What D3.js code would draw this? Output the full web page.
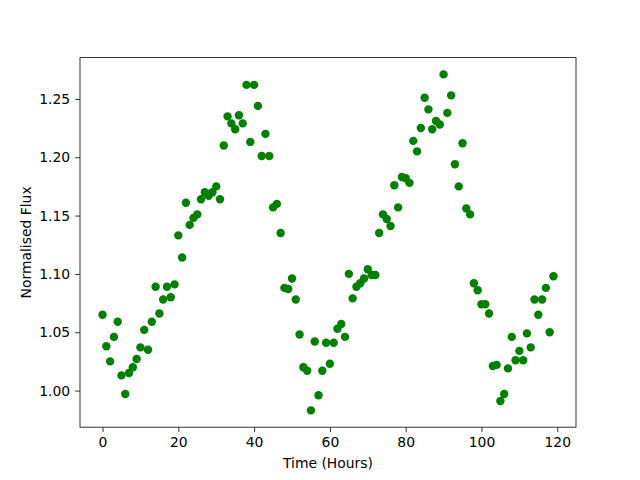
<!doctype html>
<html>
<head>
<meta charset="utf-8">
<style>
  body { margin: 0; background: #fff; }
  svg { display: block; }
  text { font-family: "DejaVu Sans", sans-serif; font-size: 13.9px; fill: #000; }
</style>
</head>
<body>
<svg id="chart" width="640" height="480"></svg>
<script src="https://d3js.org/d3.v7.min.js"></script>
<script>
// one reading per hour, 0..119
var hours = d3.range(0, 120);
var flux = [
  1.065, 1.038, 1.025, 1.046, 1.059, 1.013, 0.997, 1.015, 1.020, 1.027,
  1.037, 1.052, 1.035, 1.059, 1.089, 1.066, 1.078, 1.089, 1.080, 1.091,
  1.133, 1.114, 1.161, 1.142, 1.148, 1.151, 1.164, 1.170, 1.167, 1.170,
  1.175, 1.164, 1.210, 1.235, 1.229, 1.224, 1.236, 1.229, 1.262, 1.213,
  1.262, 1.244, 1.201, 1.220, 1.201, 1.157, 1.160, 1.135, 1.088, 1.087,
  1.096, 1.078, 1.048, 1.020, 1.017, 0.983, 1.042, 0.996, 1.017, 1.041,
  1.023, 1.041, 1.053, 1.057, 1.046, 1.100, 1.079, 1.089, 1.092, 1.096,
  1.104, 1.099, 1.099, 1.135, 1.151, 1.147, 1.141, 1.176, 1.157, 1.183,
  1.182, 1.178, 1.214, 1.205, 1.225, 1.251, 1.241, 1.224, 1.231, 1.228,
  1.271, 1.238, 1.253, 1.194, 1.175, 1.212, 1.156, 1.151, 1.092, 1.086,
  1.074, 1.074, 1.066, 1.021, 1.022, 0.991, 0.997, 1.019, 1.046, 1.026,
  1.034, 1.026, 1.049, 1.037, 1.078, 1.065, 1.078, 1.088, 1.050, 1.098
];
var xTicks = [0, 20, 40, 60, 80, 100, 120];
var yTicks = [1.00, 1.05, 1.10, 1.15, 1.20, 1.25];

var svg = d3.select("#chart");
var plotLeft = 80, plotRight = 576, plotTop = 57.6, plotBottom = 427.2;

function padded(ext) {
  var span = ext[1] - ext[0];
  return [ext[0] - span * 0.05, ext[1] + span * 0.05];
}

var x = d3.scaleLinear().domain(padded(d3.extent(hours))).range([plotLeft, plotRight]);
var y = d3.scaleLinear().domain(padded(d3.extent(flux))).range([plotBottom, plotTop]);

var pts = hours.map(function(h, i) { return { x: h, y: flux[i] }; });

svg.append("g")
  .selectAll("circle")
  .data(pts)
  .enter().append("circle")
  .attr("cx", function(d) { return x(d.x); })
  .attr("cy", function(d) { return y(d.y); })
  .attr("r", 4.2)
  .attr("fill", "#008000");

var xAxis = svg.append("g")
  .attr("transform", "translate(0," + plotBottom + ")")
  .call(d3.axisBottom(x).tickValues(xTicks).tickSize(4.9).tickPadding(4.9).tickFormat(d3.format("d")));
var yAxis = svg.append("g")
  .attr("transform", "translate(" + plotLeft + ",0)")
  .call(d3.axisLeft(y).tickValues(yTicks).tickSize(4.9).tickPadding(4.9).tickFormat(d3.format(".2f")));

[xAxis, yAxis].forEach(function(g) {
  g.select(".domain").remove();
  g.selectAll(".tick line").attr("stroke", "#000").attr("stroke-width", 0.8);
  g.selectAll(".tick text").attr("font-family", "DejaVu Sans, sans-serif").attr("font-size", 13.9).attr("fill", "#000");
});

svg.append("rect")
  .attr("x", plotLeft).attr("y", plotTop)
  .attr("width", plotRight - plotLeft).attr("height", plotBottom - plotTop)
  .attr("fill", "none").attr("stroke", "#000").attr("stroke-width", 0.8);

svg.append("text")
  .attr("x", (plotLeft + plotRight) / 2).attr("y", 468)
  .attr("text-anchor", "middle")
  .text("Time (Hours)");

svg.append("text")
  .attr("transform", "translate(31," + ((plotTop + plotBottom) / 2) + ") rotate(-90)")
  .attr("text-anchor", "middle")
  .text("Normalised Flux");
</script>
</body>
</html>
